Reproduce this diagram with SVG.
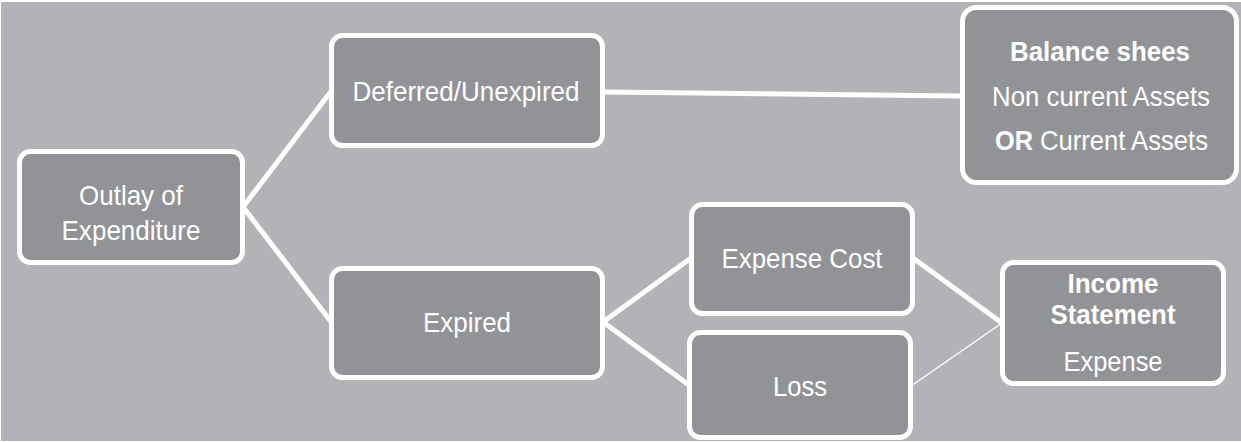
<svg xmlns="http://www.w3.org/2000/svg" width="1241" height="442" viewBox="0 0 1241 442">
<style>
.bg{fill:#b2b3b6}
.node{fill:#929397;stroke:#ffffff;stroke-width:5}
.conn{stroke:#ffffff;stroke-width:5;fill:none}
.thin{stroke:#ffffff;stroke-width:1.5;fill:none}
text{font-family:"Liberation Sans",Arial,sans-serif;font-size:28px;fill:#ffffff}
.b{font-weight:bold}
.m{text-anchor:middle}
</style>
<rect x="0" y="0" width="1241" height="442" fill="#ffffff"/>
<rect class="bg" x="1" y="2" width="1240" height="439"/>
<g id="connectors">
<line class="conn" x1="243" y1="207" x2="332" y2="90"/>
<line class="conn" x1="243" y1="207" x2="332" y2="323"/>
<line class="conn" x1="603" y1="92" x2="962" y2="96"/>
<line class="conn" x1="603" y1="322" x2="691" y2="258"/>
<line class="conn" x1="603" y1="322" x2="689" y2="385"/>
<line class="conn" x1="913" y1="258" x2="1002" y2="323"/>
<line class="thin" x1="911" y1="386" x2="1002" y2="323"/>
</g>
<g id="outlay">
<rect class="node" x="19.5" y="151.5" width="223" height="111" rx="11"/>
<text class="m" x="131" y="205" textLength="104" lengthAdjust="spacingAndGlyphs">Outlay of</text>
<text class="m" x="131" y="240" textLength="139" lengthAdjust="spacingAndGlyphs">Expenditure</text>
</g>
<g id="deferred">
<rect class="node" x="331.5" y="35.5" width="271" height="110" rx="11"/>
<text class="m" x="466" y="101" textLength="227" lengthAdjust="spacingAndGlyphs">Deferred/Unexpired</text>
</g>
<g id="expired">
<rect class="node" x="331.5" y="268.5" width="271" height="109" rx="11"/>
<text class="m" x="467" y="332" textLength="88" lengthAdjust="spacingAndGlyphs">Expired</text>
</g>
<g id="balance">
<rect class="node" x="962.5" y="7.5" width="274" height="175" rx="14"/>
<text class="m b" x="1100" y="61" textLength="180" lengthAdjust="spacingAndGlyphs">Balance shees</text>
<text class="m" x="1101" y="106" textLength="218" lengthAdjust="spacingAndGlyphs">Non current Assets</text>
<text class="b" x="995" y="150" textLength="38" lengthAdjust="spacingAndGlyphs">OR</text>
<text x="1040" y="150" textLength="168" lengthAdjust="spacingAndGlyphs">Current Assets</text>
</g>
<g id="expense-cost">
<rect class="node" x="691.5" y="204.5" width="221" height="109" rx="11"/>
<text class="m" x="802" y="268" textLength="161" lengthAdjust="spacingAndGlyphs">Expense Cost</text>
</g>
<g id="loss">
<rect class="node" x="689.5" y="332.5" width="221" height="105" rx="11"/>
<text class="m" x="800" y="396" textLength="54" lengthAdjust="spacingAndGlyphs">Loss</text>
</g>
<g id="income">
<rect class="node" x="1002.5" y="262.5" width="221" height="121" rx="11"/>
<text class="m b" x="1113" y="293" textLength="91" lengthAdjust="spacingAndGlyphs">Income</text>
<text class="m b" x="1113" y="324" textLength="125" lengthAdjust="spacingAndGlyphs">Statement</text>
<text class="m" x="1113" y="371" textLength="99" lengthAdjust="spacingAndGlyphs">Expense</text>
</g>
</svg>
